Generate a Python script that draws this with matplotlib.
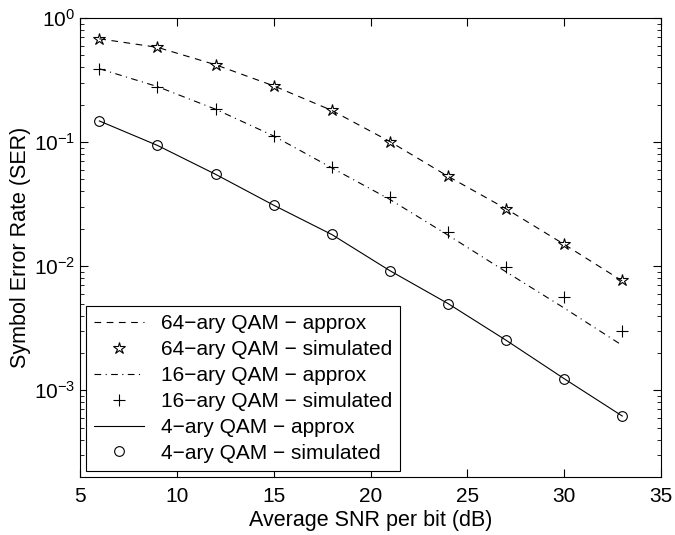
import matplotlib
matplotlib.use("Agg")
import matplotlib.pyplot as plt
from matplotlib.ticker import LogLocator, NullFormatter

plt.rcParams["font.family"] = ["Liberation Sans", "DejaVu Sans"]
plt.rcParams["mathtext.fontset"] = "custom"
plt.rcParams["mathtext.rm"] = "Liberation Sans"
plt.rcParams["mathtext.it"] = "Liberation Sans:italic"

snr_db = [6, 9, 12, 15, 18, 21, 24, 27, 30, 33]

qam64_approx = [0.68, 0.58, 0.42, 0.284, 0.18, 0.101, 0.053, 0.029, 0.0150, 0.0076]
qam64_sim = [0.68, 0.58, 0.42, 0.284, 0.18, 0.101, 0.053, 0.029, 0.0150, 0.0077]
qam16_approx = [0.39, 0.28, 0.184, 0.112, 0.062, 0.0345, 0.0178, 0.0090, 0.0046, 0.0023]
qam16_sim = [0.39, 0.28, 0.184, 0.113, 0.063, 0.036, 0.0189, 0.0099, 0.0056, 0.0030]
qam4_approx = [0.148, 0.094, 0.055, 0.031, 0.0180, 0.0092, 0.0050, 0.00253, 0.00124, 0.00062]
qam4_sim = [0.148, 0.094, 0.055, 0.031, 0.0181, 0.0092, 0.0050, 0.00253, 0.00124, 0.00062]

labels = [
    "64\u2212ary QAM \u2212 approx",
    "64\u2212ary QAM \u2212 simulated",
    "16\u2212ary QAM \u2212 approx",
    "16\u2212ary QAM \u2212 simulated",
    "4\u2212ary QAM \u2212 approx",
    "4\u2212ary QAM \u2212 simulated",
]

fig = plt.figure(figsize=(6.75, 5.35), dpi=100)
ax = fig.add_axes([80 / 675, 1 - 477 / 535, 581 / 675, 459 / 535])

lw = 0.8
ax.semilogy(snr_db, qam64_approx, color="k", lw=lw, ls=(0, (6, 5)), label=labels[0])
ax.semilogy(snr_db, qam64_sim, ls="none", marker="*", ms=9, mfc="none", mec="k",
            mew=0.8, label=labels[1])
ax.semilogy(snr_db, qam16_approx, color="k", lw=lw, ls=(0, (6, 4, 1, 4)), label=labels[2])
ax.semilogy(snr_db, qam16_sim, ls="none", marker="+", ms=9, mec="k", mew=0.8,
            label=labels[3])
ax.semilogy(snr_db, qam4_approx, color="k", lw=lw, ls="-", label=labels[4])
ax.semilogy(snr_db, qam4_sim, ls="none", marker="o", ms=7, mfc="none", mec="k",
            mew=0.8, label=labels[5])

ax.set_xlim(5, 35)
ax.set_ylim(2e-4, 1)
ax.set_xticks([5, 10, 15, 20, 25, 30, 35])
ax.yaxis.set_major_locator(LogLocator(base=10, numticks=10))
ax.yaxis.set_minor_locator(LogLocator(base=10, subs=range(2, 10), numticks=20))
ax.yaxis.set_minor_formatter(NullFormatter())
ax.tick_params(which="both", direction="in", top=True, right=True, labelsize=15)
ax.tick_params(which="major", length=6)
ax.tick_params(which="minor", length=3)
ax.tick_params(axis="x", pad=7)
for s in ax.spines.values():
    s.set_linewidth(0.8)

ax.set_xlabel("Average SNR per bit (dB)", fontsize=15.5, labelpad=3)
ax.set_ylabel("Symbol Error Rate (SER)", fontsize=15.5, labelpad=2)

leg = ax.legend(loc="lower left", bbox_to_anchor=(0.01, 0.013), borderaxespad=0,
                fontsize=15, fancybox=False, edgecolor="k", framealpha=1,
                handlelength=2.4, labelspacing=0.33, borderpad=0.4,
                handletextpad=0.8)
leg.get_frame().set_linewidth(0.8)

fig.savefig("out.png", dpi=100)
